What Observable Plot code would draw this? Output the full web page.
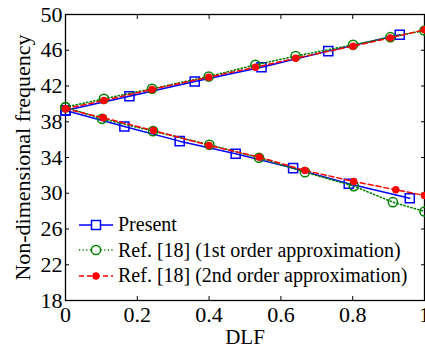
<!DOCTYPE html>
<html>
<head>
<meta charset="utf-8">
<script src="https://cdn.jsdelivr.net/npm/d3@7"></script>
<script src="https://cdn.jsdelivr.net/npm/@observablehq/plot@0.6"></script>
<style>
  html, body { margin: 0; padding: 0; background: #fff; }
  #wrap { position: relative; width: 425px; height: 349px; overflow: hidden; }
  #legend { position: absolute; left: 79px; top: 212px; font-family: "Liberation Serif", "DejaVu Serif", serif; font-size: 20px; color: #000; }
  .row { display: flex; align-items: center; height: 25.5px; white-space: nowrap; }
  .row svg { margin-right: 4px; }
</style>
</head>
<body>
<div id="wrap"><div id="legend"></div></div>
<script>
// Axis ticks
const xTicks = [0, 0.2, 0.4, 0.6, 0.8, 1];
const yTicks = [18, 22, 26, 30, 34, 38, 42, 46, 50];

// Present: upper and lower frequency branches
const presentUpperX = [0, 0.178, 0.36, 0.546, 0.732, 0.931];
const presentUpperY = [39.26, 40.86, 42.5, 44.1, 45.9, 47.73];
const presentLowerX = [0, 0.164, 0.318, 0.474, 0.634, 0.789, 0.959];
const presentLowerY = [39.26, 37.47, 35.83, 34.42, 32.81, 31.06, 29.45];

// Ref. [18], 1st order approximation
const ref1UpperX = [0, 0.107, 0.241, 0.399, 0.529, 0.641, 0.801, 0.905, 1];
const ref1UpperY = [39.63, 40.57, 41.69, 43.06, 44.37, 45.34, 46.61, 47.46, 48.21];
const ref1LowerX = [0, 0.102, 0.244, 0.401, 0.539, 0.667, 0.803, 0.912, 1];
const ref1LowerY = [39.63, 38.33, 36.95, 35.42, 33.97, 32.36, 30.8, 29.0, 27.96];

// Ref. [18], 2nd order approximation
const ref2UpperX = [0, 0.107, 0.241, 0.399, 0.529, 0.641, 0.801, 0.905, 1];
const ref2UpperY = [39.45, 40.38, 41.62, 42.99, 44.1, 45.11, 46.46, 47.39, 48.29];
const ref2LowerX = [0, 0.105, 0.245, 0.4, 0.54, 0.667, 0.803, 0.92, 1];
const ref2LowerY = [39.45, 38.44, 37.02, 35.35, 34.04, 32.55, 31.32, 30.39, 29.75];

const seriesNames = ["Present", "Ref. [18] (1st order approximation)", "Ref. [18] (2nd order approximation)"];

function rows(xs, ys, branch) {
  return xs.map((x, i) => ({x, y: ys[i], branch}));
}
const present = [...rows(presentUpperX, presentUpperY, "upper"), ...rows(presentLowerX, presentLowerY, "lower")];
const ref1 = [...rows(ref1UpperX, ref1UpperY, "upper"), ...rows(ref1LowerX, ref1LowerY, "lower")];
const ref2 = [...rows(ref2UpperX, ref2UpperY, "upper"), ...rows(ref2LowerX, ref2LowerY, "lower")];

const BLUE = "#0000ff", GREEN = "#008000", RED = "#ff0000";
const serif = "'Liberation Serif', 'DejaVu Serif', serif";

const chart = Plot.plot({
  width: 425,
  height: 349,
  marginLeft: 65,
  marginRight: 1,
  marginTop: 14,
  marginBottom: 49,
  style: {fontFamily: serif, fontSize: "22px", color: "#000", background: "#fff"},
  x: {domain: [0, 1], axis: null},
  y: {domain: [18, 50], axis: null},
  marks: [
    // inward ticks on all four sides
    Plot.axisX({ticks: xTicks, anchor: "bottom", tickSize: 4, dy: -4, tickFormat: () => "", label: null, strokeWidth: 1}),
    Plot.axisX({ticks: xTicks, anchor: "top", tickSize: 4, dy: 4, tickFormat: () => "", label: null, strokeWidth: 1}),
    Plot.axisY({ticks: yTicks, anchor: "left", tickSize: 4, dx: 4, tickFormat: () => "", label: null, strokeWidth: 1}),
    Plot.axisY({ticks: yTicks, anchor: "right", tickSize: 4, dx: -4, tickFormat: () => "", label: null, strokeWidth: 1}),
    // tick labels
    Plot.axisX({ticks: xTicks, anchor: "bottom", tickSize: 0, tickPadding: 6, tickFormat: d => String(d), label: null, fontSize: 22}),
    Plot.axisY({ticks: yTicks, anchor: "left", tickSize: 0, tickPadding: 3, tickFormat: d => String(d), label: null, fontSize: 22}),
    Plot.frame({stroke: "#000", strokeWidth: 1.3}),
    // axis titles
    Plot.text(["DLF"], {frameAnchor: "bottom", lineAnchor: "middle", dy: 37, text: d => d, fontSize: 21}),
    Plot.text(["Non-dimensional frequency"], {frameAnchor: "left", textAnchor: "middle", lineAnchor: "middle", dx: -43, rotate: -90, text: d => d, fontSize: 22}),
    // series
    Plot.line(present, {x: "x", y: "y", z: "branch", stroke: BLUE, strokeWidth: 1.5}),
    Plot.dot(present, {x: "x", y: "y", symbol: "square", r: 5.1, stroke: BLUE, fill: "none", strokeWidth: 1.5}),
    Plot.line(ref1, {x: "x", y: "y", z: "branch", stroke: GREEN, strokeWidth: 1.6, strokeDasharray: "1.2,2.4"}),
    Plot.dot(ref1, {x: "x", y: "y", r: 4.6, stroke: GREEN, fill: "none", strokeWidth: 1.5}),
    Plot.line(ref2, {x: "x", y: "y", z: "branch", stroke: RED, strokeWidth: 1.5, strokeDasharray: "5,3"}),
    Plot.dot(ref2, {x: "x", y: "y", r: 3.7, fill: RED})
  ]
});
document.getElementById("wrap").prepend(chart);

// legend
const legendStyles = [
  {stroke: BLUE, dash: null, marker: "square"},
  {stroke: GREEN, dash: "1.2,2.4", marker: "open"},
  {stroke: RED, dash: "5,3", marker: "filled"}
];
const legend = d3.select("#legend");
seriesNames.forEach((name, i) => {
  const s = legendStyles[i];
  const row = legend.append("div").attr("class", "row");
  const svg = row.append("svg").attr("width", 35).attr("height", 14);
  svg.append("line").attr("x1", 0).attr("x2", 34).attr("y1", 7).attr("y2", 7)
    .attr("stroke", s.stroke).attr("stroke-width", 1.5).attr("stroke-dasharray", s.dash);
  if (s.marker === "square") {
    svg.append("rect").attr("x", 12.5).attr("y", 2.5).attr("width", 9).attr("height", 9)
      .attr("fill", "#fff").attr("stroke", s.stroke).attr("stroke-width", 1.5);
  } else if (s.marker === "open") {
    svg.append("circle").attr("cx", 17).attr("cy", 7).attr("r", 4.6)
      .attr("fill", "#fff").attr("stroke", s.stroke).attr("stroke-width", 1.5);
  } else {
    svg.append("circle").attr("cx", 17).attr("cy", 7).attr("r", 3.7).attr("fill", s.stroke);
  }
  row.append("span").text(name);
});
</script>
</body>
</html>
